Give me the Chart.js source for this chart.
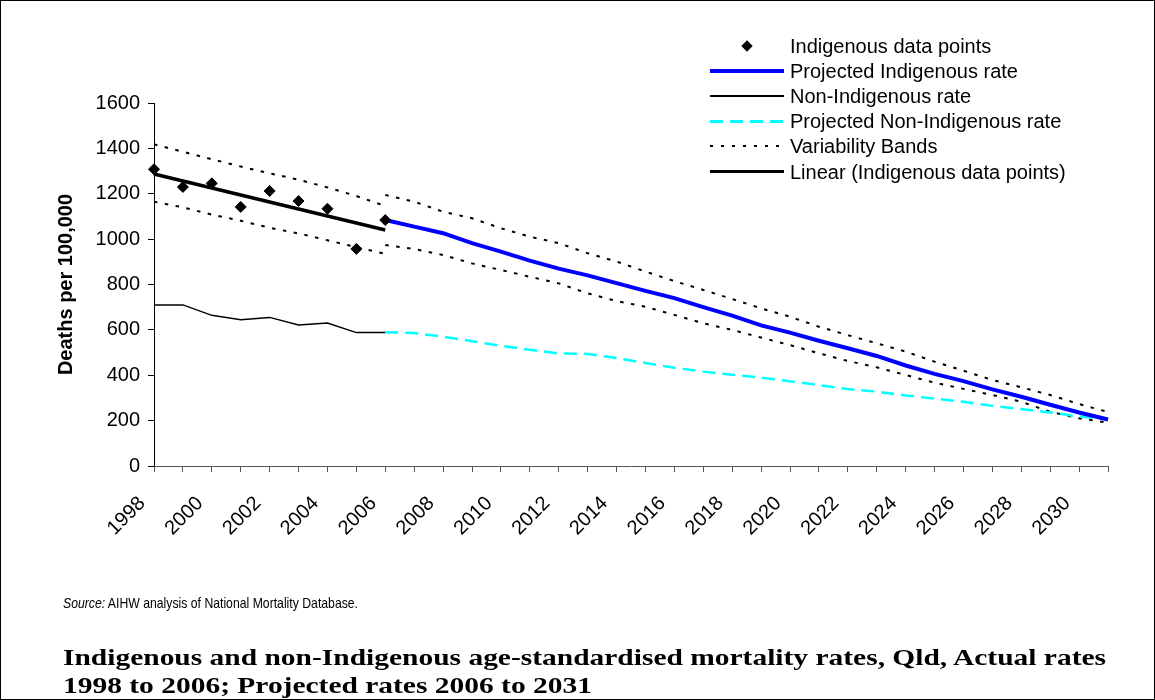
<!DOCTYPE html>
<html>
<head>
<meta charset="utf-8">
<script src="https://cdn.jsdelivr.net/npm/chart.js@4.4.0/dist/chart.umd.min.js"></script>
<style>
body { margin: 0; background: #fff; }
#wrap { position: relative; width: 1155px; height: 700px; overflow: hidden; font-family: "Liberation Sans", Arial, sans-serif; color: #000; }
#frame { position: absolute; left: 0; top: 0; width: 1155px; height: 700px; box-sizing: border-box; border: 1px solid #000; pointer-events: none; }
#mortalityChart { position: absolute; left: 0; top: 0; }
.leg-row { position: absolute; left: 708px; height: 24px; width: 420px; }
.leg-sample { position: absolute; left: 2px; width: 74px; top: 50%; }
.leg-text { position: absolute; left: 82px; top: 0; font-size: 20px; line-height: 24px; white-space: nowrap; }
.fit { position: absolute; left: 63px; white-space: nowrap; display: inline-block; transform-origin: 0 50%; }
#source { font-size: 15px; line-height: 18px; top: 594px; }
.caption { font-family: "Liberation Serif", "DejaVu Serif", serif; font-weight: bold; font-size: 24px; line-height: 28px; }
#cap1 { top: 643px; }
#cap2 { top: 671px; }
</style>
</head>
<body>
<div id="wrap">
  <canvas id="mortalityChart" width="1155" height="700"></canvas>
  <div id="legend"></div>
  <span id="source" class="fit"><i>Source:</i> AIHW analysis of National Mortality Database.</span>
  <span id="cap1" class="fit caption">Indigenous and non-Indigenous age-standardised mortality rates, Qld, Actual rates</span>
  <span id="cap2" class="fit caption">1998 to 2006; Projected rates 2006 to 2031</span>
  <div id="frame"></div>
</div>
<script>
// categories
var years = ['1998','1999','2000','2001','2002','2003','2004','2005','2006','2007','2008','2009',
             '2010','2011','2012','2013','2014','2015','2016','2017','2018','2019','2020','2021',
             '2022','2023','2024','2025','2026','2027','2028','2029','2030','2031'];
var actualYears = ['1998','1999','2000','2001','2002','2003','2004','2005','2006'];
var projYears = ['2006','2007','2008','2009','2010','2011','2012','2013','2014','2015','2016','2017','2018',
                 '2019','2020','2021','2022','2023','2024','2025','2026','2027','2028','2029','2030','2031'];
var trendYears = ['1998', '2006'];

// actual rates 1998-2006
var indigenousPoints = [1308, 1230, 1246, 1142, 1212, 1168, 1134, 957, 1084];
var nonIndigenousRate = [710, 710, 664, 645, 655, 622, 630, 588, 588];
var trendValues = [1287, 1040];
var bandUpperActual = [1418, 1385, 1352, 1320, 1290, 1262, 1228, 1190, 1146];
var bandLowerActual = [1165, 1140, 1108, 1081, 1050, 1025, 995, 965, 935];

// projected rates 2006-2031
var projIndigenousRate = [1084, 1055, 1026, 982, 945, 905, 870, 840, 806, 772, 740, 700, 663,
                          620, 588, 552, 519, 485, 443, 406, 374, 338, 305, 270, 236, 205];
var projNonIndigenousRate = [590, 586, 570, 550, 530, 512, 496, 494, 476, 454, 433, 416, 402,
                             390, 373, 357, 339, 328, 311, 297, 283, 265, 251, 236, 218, 206];
var bandUpperProj = [1195, 1165, 1121, 1092, 1048, 1011, 982, 938, 901, 857, 815, 776, 736,
                     695, 658, 614, 577, 541, 504, 460, 420, 379, 347, 313, 273, 238];
var bandLowerProj = [974, 957, 930, 893, 864, 834, 805, 761, 727, 702, 666, 629, 600,
                     566, 533, 497, 463, 435, 401, 367, 340, 313, 283, 239, 210, 191];

var yMin = 0, yMax = 1600, yStep = 200;
var yTitle = 'Deaths per 100,000';

function pairs(xs, ys) {
    return xs.map(function (x, i) { return { x: x, y: ys[i] }; });
}

var dotted = [3.5, 7.5];
var axisFont = { family: '"Liberation Sans", Arial, sans-serif', size: 20 };

var ctx = document.getElementById('mortalityChart');
var mortalityChart = new Chart(ctx, {
    type: 'line',
    data: {
        labels: years,
        datasets: [
            {
                label: 'Indigenous data points',
                data: pairs(actualYears, indigenousPoints),
                showLine: false,
                pointStyle: 'rectRot',
                pointRadius: 5.5,
                pointBackgroundColor: '#000',
                pointBorderColor: '#000',
                borderColor: '#000'
            },
            {
                label: 'Linear (Indigenous data points)',
                data: pairs(trendYears, trendValues),
                borderColor: '#000',
                borderWidth: 3.5,
                pointRadius: 0
            },
            {
                label: 'Projected Indigenous rate',
                data: pairs(projYears, projIndigenousRate),
                borderColor: '#0000FF',
                borderWidth: 4,
                pointRadius: 0
            },
            {
                label: 'Projected Non-Indigenous rate',
                data: pairs(projYears, projNonIndigenousRate),
                borderColor: '#00FFFF',
                borderWidth: 2.5,
                borderDash: [13, 7],
                pointRadius: 0
            },
            {
                label: 'Non-Indigenous rate',
                data: pairs(actualYears, nonIndigenousRate),
                borderColor: '#000',
                borderWidth: 1.5,
                pointRadius: 0
            },
            {
                label: 'Variability Bands',
                data: pairs(actualYears, bandUpperActual),
                borderColor: '#000', borderWidth: 2, borderDash: dotted, pointRadius: 0
            },
            {
                label: 'Variability Bands (lower)',
                data: pairs(actualYears, bandLowerActual),
                borderColor: '#000', borderWidth: 2, borderDash: dotted, pointRadius: 0
            },
            {
                label: 'Variability Bands (projected upper)',
                data: pairs(projYears, bandUpperProj),
                borderColor: '#000', borderWidth: 2, borderDash: dotted, pointRadius: 0
            },
            {
                label: 'Variability Bands (projected lower)',
                data: pairs(projYears, bandLowerProj),
                borderColor: '#000', borderWidth: 2, borderDash: dotted, pointRadius: 0
            }
        ]
    },
    options: {
        responsive: false,
        animation: false,
        devicePixelRatio: 1,
        layout: { padding: { left: 54, top: 103, right: 47, bottom: 134 } },
        plugins: {
            legend: { display: false },
            tooltip: { enabled: false }
        },
        scales: {
            x: {
                type: 'category',
                offset: false,
                afterFit: function (scale) { scale.height = 100; },
                border: { color: '#555', width: 1 },
                grid: { display: true, drawOnChartArea: false, drawTicks: true, tickLength: 6, color: '#555' },
                ticks: {
                    autoSkip: false,
                    maxRotation: 45,
                    minRotation: 45,
                    padding: 8,
                    color: '#000',
                    font: axisFont,
                    callback: function (value, index) {
                        // label every second year; trailing spaces push the text off the tick like the original
                        return index % 2 === 0 ? this.getLabelForValue(value) + '   ' : '';
                    }
                }
            },
            y: {
                min: yMin,
                max: yMax,
                afterFit: function (scale) { scale.width = 100; },
                border: { color: '#000', width: 1 },
                grid: { display: true, drawOnChartArea: false, drawTicks: true, tickLength: 6, color: '#000' },
                ticks: {
                    stepSize: yStep,
                    padding: 8,
                    color: '#000',
                    font: axisFont,
                    callback: function (value) { return String(value); }
                },
                title: {
                    display: true,
                    text: yTitle,
                    color: '#000',
                    padding: 0,
                    font: { family: '"Liberation Sans", Arial, sans-serif', size: 20, weight: 'bold' }
                }
            }
        }
    }
});

// legend, built from the same datasets
var legendItems = [
    { idx: 0, kind: 'marker' },
    { idx: 2, kind: 'line' },
    { idx: 4, kind: 'line' },
    { idx: 3, kind: 'line' },
    { idx: 5, kind: 'line' },
    { idx: 1, kind: 'line' }
];
var legendEl = document.getElementById('legend');
legendItems.forEach(function (item, i) {
    var ds = mortalityChart.data.datasets[item.idx];
    var row = document.createElement('div');
    row.className = 'leg-row';
    row.style.top = (34 + i * 25.1) + 'px';
    var sample = document.createElement('div');
    sample.className = 'leg-sample';
    if (item.kind === 'marker') {
        sample.style.left = '35px';
        sample.style.width = '8px';
        sample.style.height = '8px';
        sample.style.marginTop = '-4px';
        sample.style.background = ds.pointBackgroundColor;
        sample.style.transform = 'rotate(45deg)';
    } else {
        var w = ds.borderWidth;
        sample.style.height = w + 'px';
        sample.style.marginTop = (-w / 2) + 'px';
        if (ds.borderDash) {
            var a = ds.borderDash[0], b = ds.borderDash[0] + ds.borderDash[1];
            sample.style.background = 'repeating-linear-gradient(90deg, ' + ds.borderColor + ' 0 ' + a + 'px, transparent ' + a + 'px ' + b + 'px)';
        } else {
            sample.style.background = ds.borderColor;
        }
    }
    var text = document.createElement('div');
    text.className = 'leg-text';
    text.textContent = ds.label;
    row.appendChild(sample);
    row.appendChild(text);
    legendEl.appendChild(row);
});

// narrow/widen the footer texts to the widths in the original
function fitWidth(el, target, scaleFrom) {
    var w = (scaleFrom || el).getBoundingClientRect().width;
    el.style.transform = 'scaleX(' + (target / w) + ')';
}
var cap1 = document.getElementById('cap1');
fitWidth(document.getElementById('source'), 295);
fitWidth(document.getElementById('cap2'), 1043, cap1);
fitWidth(cap1, 1043);
</script>
</body>
</html>
